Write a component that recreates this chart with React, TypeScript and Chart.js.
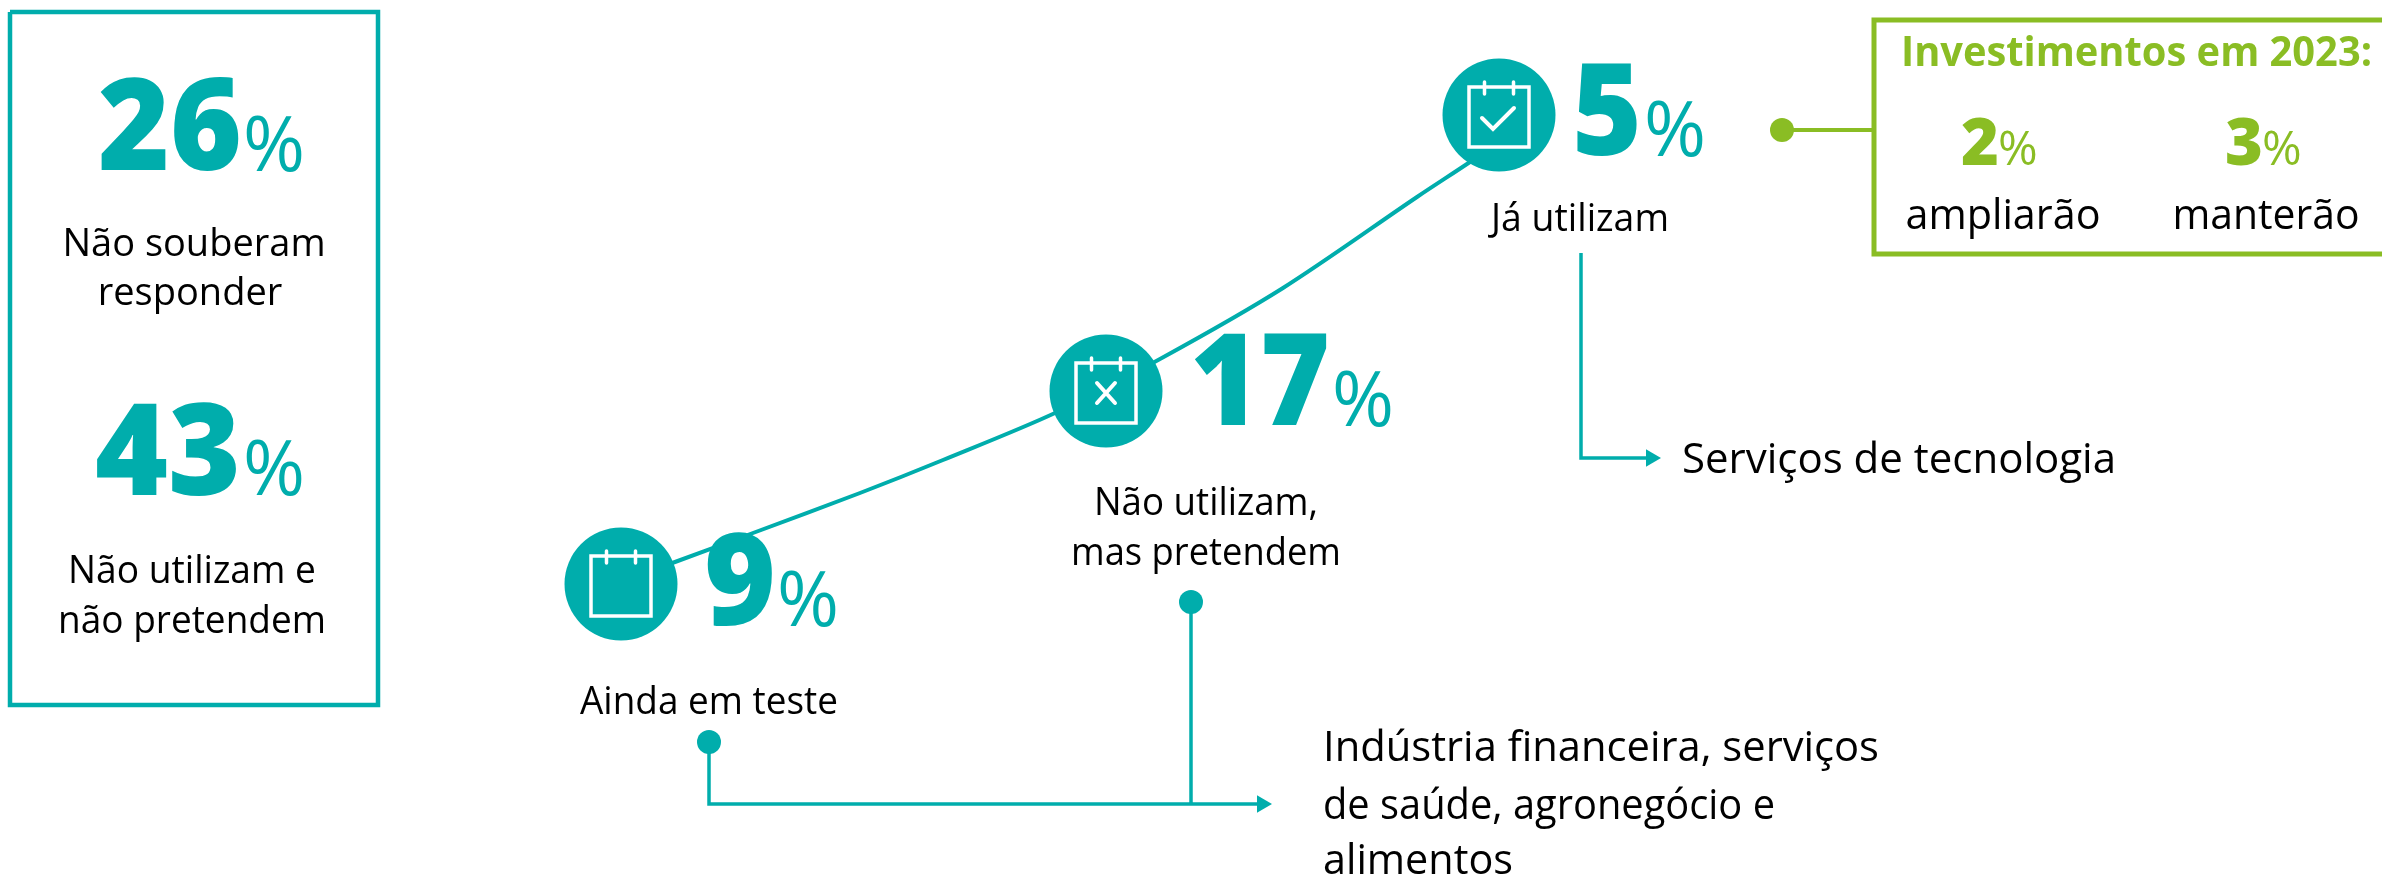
import React, { useEffect, useRef } from "react";
import { Chart, registerables } from "chart.js";

Chart.register(...registerables);

const TEAL = "#00adac";
const GREEN = "#8abd24";
const INK = "#000000";
const FONT = '"Open Sans", "Noto Sans", sans-serif';

// Values
const stageNames = ["Ainda em teste", "Não utilizam, mas pretendem", "Já utilizam"];
const stageValues = [9, 17, 5];
const otherNames = ["Não souberam responder", "Não utilizam e não pretendem"];
const otherValues = [26, 43];
const investNames = ["ampliarão", "manterão"];
const investValues = [2, 3];

// Positions on the drawing plane
const stageX = [621, 1106, 1499];
const stageY = [584, 391, 115];
const curveX = [621, 675, 753, 860, 943, 1055, 1160, 1283, 1417, 1470, 1499];
const curveY = [582, 562, 533, 493, 460, 413, 359, 288, 197, 162, 142];

type P = { x: number; y: number };
const zip = (xs: number[], ys: number[]): P[] => xs.map((x, i) => ({ x, y: ys[i] }));

const leftBoxX = [10, 378, 378, 10, 10];
const leftBoxY = [12, 12, 705, 705, 12];
const greenBoxX = [2382, 1874, 1874, 2382];
const greenBoxY = [20, 20, 254, 254];
const greenLinkX = [1782, 1874];
const greenLinkY = [130, 130];
const topLinkX = [1581, 1581, 1655];
const topLinkY = [253, 458, 458];
const lowLinkX = [709, 709, 1265];
const lowLinkY = [742, 804, 804];
const midLinkX = [1191, 1191];
const midLinkY = [602, 804];
const arrowX = [1651, 1262];
const arrowY = [458, 804];
const dotX = [709, 1191];
const dotY = [742, 602];

type T = { s: string; x: number; y: number; size: number; weight?: number; color: string; w?: number; left?: boolean };

const pct = (v: number) => `${v}`;
const textItems: T[] = [
  { s: pct(otherValues[0]), x: 98, y: 170, size: 128, weight: 800, color: TEAL, w: 144, left: true },
  { s: "%", x: 243, y: 171, size: 76, color: TEAL, w: 62, left: true },
  { s: "Não souberam", x: 194, y: 256, size: 38, color: INK, w: 272 },
  { s: "responder", x: 190, y: 305, size: 38, color: INK },
  { s: pct(otherValues[1]), x: 95, y: 495, size: 128, weight: 800, color: TEAL, w: 146, left: true },
  { s: "%", x: 243, y: 495, size: 76, color: TEAL, w: 62, left: true },
  { s: "Não utilizam e", x: 192, y: 583, size: 38, color: INK, w: 248 },
  { s: "não pretendem", x: 192, y: 633, size: 38, color: INK, w: 268 },

  { s: pct(stageValues[0]), x: 704, y: 625, size: 128, weight: 800, color: TEAL, w: 72, left: true },
  { s: "%", x: 777, y: 626, size: 76, color: TEAL, w: 62, left: true },
  { s: stageNames[0], x: 709, y: 714, size: 38, color: INK, w: 258 },
  { s: pct(stageValues[1]), x: 1190, y: 425, size: 128, weight: 800, color: TEAL, w: 140, left: true },
  { s: "%", x: 1332, y: 426, size: 76, color: TEAL, w: 62, left: true },
  { s: "Não utilizam,", x: 1206, y: 515, size: 38, color: INK, w: 224 },
  { s: "mas pretendem", x: 1206, y: 565, size: 38, color: INK, w: 270 },
  { s: pct(stageValues[2]), x: 1572, y: 155, size: 128, weight: 800, color: TEAL, w: 70, left: true },
  { s: "%", x: 1644, y: 156, size: 76, color: TEAL, w: 62, left: true },
  { s: stageNames[2], x: 1580, y: 231, size: 38, color: INK, w: 178 },

  { s: "Investimentos em 2023:", x: 1901, y: 66, size: 42, weight: 700, color: GREEN, w: 471, left: true },
  { s: pct(investValues[0]), x: 1961, y: 165, size: 66, weight: 800, color: GREEN, w: 38, left: true },
  { s: "%", x: 1998, y: 165, size: 48, color: GREEN, w: 40, left: true },
  { s: investNames[0], x: 2003, y: 229, size: 42, color: INK, w: 195 },
  { s: pct(investValues[1]), x: 2225, y: 165, size: 66, weight: 800, color: GREEN, w: 38, left: true },
  { s: "%", x: 2262, y: 165, size: 48, color: GREEN, w: 40, left: true },
  { s: investNames[1], x: 2266, y: 229, size: 42, color: INK, w: 187 },

  { s: "Serviços de tecnologia", x: 1682, y: 473, size: 42, color: INK, w: 434, left: true },
  { s: "Indústria financeira, serviços", x: 1323, y: 761, size: 42, color: INK, w: 556, left: true },
  { s: "de saúde, agronegócio e", x: 1323, y: 819, size: 42, color: INK, w: 452, left: true },
  { s: "alimentos", x: 1323, y: 874, size: 42, color: INK, w: 190, left: true },
];

const overlay = {
  id: "overlay",
  afterDatasetsDraw(chart: any) {
    const { ctx, scales } = chart;
    const X = (v: number) => scales.x.getPixelForValue(v);
    const Y = (v: number) => scales.y.getPixelForValue(v);
    ctx.save();
    ctx.textBaseline = "alphabetic";
    for (const t of textItems) {
      ctx.font = `${t.weight ?? 400} ${t.size}px ${FONT}`;
      ctx.fillStyle = t.color;
      ctx.textAlign = t.left ? "left" : "center";
      if (t.w) ctx.fillText(t.s, X(t.x), Y(t.y), t.w);
      else ctx.fillText(t.s, X(t.x), Y(t.y));
    }
    // calendar icons
    ctx.strokeStyle = "#ffffff";
    ctx.lineCap = "round";
    stageX.forEach((sx, i) => {
      const cx = X(sx);
      const cy = Y(stageY[i]) + 2;
      ctx.lineWidth = 3.5;
      ctx.strokeRect(cx - 30, cy - 30, 60, 60);
      for (const dx of [-14.5, 14.5]) {
        ctx.beginPath();
        ctx.moveTo(cx + dx, cy - 35);
        ctx.lineTo(cx + dx, cy - 23);
        ctx.stroke();
      }
      ctx.lineWidth = 4;
      ctx.beginPath();
      if (i === 1) {
        ctx.moveTo(cx - 9, cy - 10);
        ctx.lineTo(cx + 9, cy + 10);
        ctx.moveTo(cx + 9, cy - 10);
        ctx.lineTo(cx - 9, cy + 10);
      } else if (i === 2) {
        ctx.moveTo(cx - 17, cy + 1);
        ctx.lineTo(cx - 6, cy + 12);
        ctx.lineTo(cx + 15, cy - 9);
      }
      ctx.stroke();
    });
    ctx.restore();
  },
};

const line = (xs: number[], ys: number[], color: string, width: number, order: number, extra: any = {}) => ({
  data: zip(xs, ys),
  showLine: true,
  borderColor: color,
  borderWidth: width,
  pointRadius: 0,
  tension: 0,
  clip: false,
  order,
  ...extra,
});

export default function App() {
  const ref = useRef<HTMLCanvasElement>(null);
  useEffect(() => {
    const chart = new Chart(ref.current!, {
      type: "scatter",
      data: {
        datasets: [
          line(curveX, curveY, TEAL, 4, 6, { tension: 0.3 }),
          {
            data: zip(stageX, stageY),
            pointRadius: 56.5,
            pointBackgroundColor: TEAL,
            pointBorderWidth: 0,
            showLine: false,
            clip: false,
            order: 1,
          },
          line(leftBoxX, leftBoxY, TEAL, 4.5, 5),
          line(greenBoxX, greenBoxY, GREEN, 5, 5),
          line(greenLinkX, greenLinkY, GREEN, 4, 4),
          {
            data: zip([greenLinkX[0]], [greenLinkY[0]]),
            pointRadius: 12,
            pointBackgroundColor: GREEN,
            pointBorderWidth: 0,
            clip: false,
            order: 3,
          },
          line(topLinkX, topLinkY, TEAL, 3.5, 4),
          line(lowLinkX, lowLinkY, TEAL, 3.5, 4),
          line(midLinkX, midLinkY, TEAL, 3.5, 4),
          {
            data: zip(dotX, dotY),
            pointRadius: 12,
            pointBackgroundColor: TEAL,
            pointBorderWidth: 0,
            clip: false,
            order: 3,
          },
          {
            data: zip(arrowX, arrowY),
            pointStyle: "triangle",
            pointRotation: 90,
            pointRadius: 10,
            pointBackgroundColor: TEAL,
            pointBorderWidth: 0,
            clip: false,
            order: 3,
          },
        ],
      },
      options: {
        animation: false,
        responsive: false,
        events: [],
        layout: { padding: 0, autoPadding: false },
        plugins: { legend: { display: false }, tooltip: { enabled: false }, title: { display: false } },
        scales: {
          x: { type: "linear", min: 0, max: 2382, display: false },
          y: { type: "linear", min: 0, max: 877, reverse: true, display: false },
        },
      },
      plugins: [overlay],
    } as any);
    return () => chart.destroy();
  }, []);
  return (
    <canvas
      ref={ref}
      width={2382}
      height={877}
      style={{ position: "absolute", left: 0, top: 0, display: "block" }}
    />
  );
}
